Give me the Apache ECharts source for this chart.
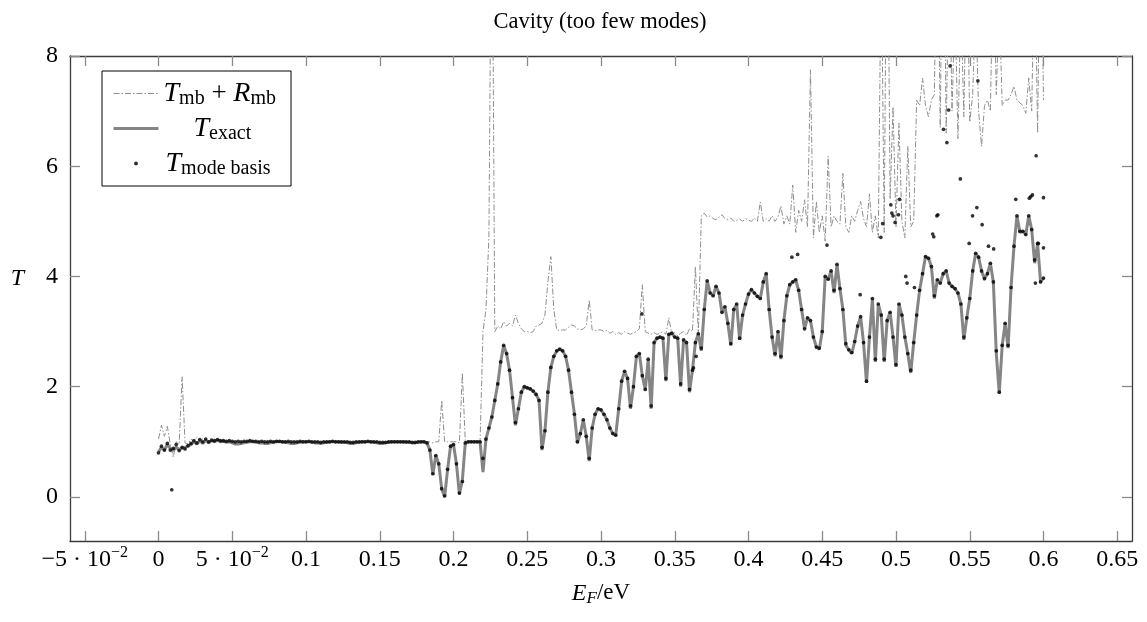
<!DOCTYPE html>
<html><head><meta charset="utf-8">
<script src="https://cdn.jsdelivr.net/npm/echarts@6/dist/echarts.min.js"></script>
<style>html,body{margin:0;padding:0;background:#fff}#c{width:1147px;height:622px}</style>
</head><body><div id="c"></div>
<script>
// Energy grid E_F in meV (0 .. 600 meV)
const energy_meV = [
0,2,4,6,8,10,12,14,16,18,20,22,24,26,28,30,32,34,36,38,
40,42,44,46,48,50,52,54,56,58,60,62,64,66,68,70,72,74,76,78,
80,82,84,86,88,90,92,94,96,98,100,102,104,106,108,110,112,114,116,118,
120,122,124,126,128,130,132,134,136,138,140,142,144,146,148,150,152,154,156,158,
160,162,164,166,168,170,172,174,176,178,180,182,184,186,188,190,192,194,196,198,
200,202,204,206,208,210,212,214,216,218,220,222,224,226,228,230,232,234,236,238,
240,242,244,246,248,250,252,254,256,258,260,262,264,266,268,270,272,274,276,278,
280,282,284,286,288,290,292,294,296,298,300,302,304,306,308,310,312,314,316,318,
320,322,324,326,328,330,332,334,336,338,340,342,344,346,348,350,352,354,356,358,
360,362,364,366,368,370,372,374,376,378,380,382,384,386,388,390,392,394,396,398,
400,402,404,406,408,410,412,414,416,418,420,422,424,426,428,430,432,434,436,438,
440,442,444,446,448,450,452,454,456,458,460,462,464,466,468,470,472,474,476,478,
480,482,484,486,488,490,492,494,496,498,500,502,504,506,508,510,512,514,516,518,
520,522,524,526,528,530,532,534,536,538,540,542,544,546,548,550,552,554,556,558,
560,562,564,566,568,570,572,574,576,578,580,582,584,586,588,590,592,594,596,598,
600];

const T_exact = [
0.82,0.9,0.85,0.95,0.88,0.84,0.9,0.86,0.88,0.9,0.92,0.95,1.0,0.96,1.02,0.97,1.03,0.98,1.02,1.0,
1.03,1.0,1.01,0.99,1.0,0.98,0.96,0.96,0.97,0.98,0.99,1.0,1.0,0.99,0.98,0.98,0.97,0.97,0.98,0.99,
1.0,1.0,1.0,0.99,0.98,0.97,0.97,0.98,0.99,1.0,1.0,1.0,0.99,0.98,0.98,0.97,0.98,0.99,1.0,1.0,
1.0,1.0,0.99,0.99,0.98,0.97,0.97,0.98,0.99,1.0,1.0,1.0,1.0,0.99,0.98,0.97,0.97,0.98,0.99,1.0,
1.0,1.0,1.0,1.0,0.99,0.99,0.98,0.98,0.99,1.0,1.0,0.98,0.85,0.4,0.75,0.6,0.15,0.0,0.5,0.92,
0.95,0.6,0.05,0.3,0.98,1.0,1.0,1.0,1.0,1.0,0.45,1.05,1.25,1.45,1.75,2.05,2.45,2.75,2.6,2.3,
1.8,1.3,1.6,1.9,2.0,1.98,1.96,1.92,1.86,1.75,0.85,1.2,1.9,2.35,2.55,2.65,2.68,2.65,2.55,2.3,
1.9,1.5,0.98,1.15,1.4,1.1,0.65,1.25,1.5,1.6,1.58,1.5,1.4,1.25,1.15,1.12,1.6,2.1,2.28,2.15,
1.6,2.0,2.55,2.6,2.2,1.95,2.5,1.6,2.8,2.88,2.9,2.88,2.1,2.95,2.97,2.9,2.88,2.0,2.85,2.8,
1.9,2.3,2.8,2.96,2.65,3.4,3.92,3.7,3.65,3.82,3.7,3.35,3.45,3.15,2.75,3.4,3.5,2.85,3.3,3.5,
3.68,3.76,3.7,3.64,3.6,3.9,4.05,3.4,2.9,2.55,3.0,2.5,3.2,3.65,3.85,3.9,3.94,3.75,3.4,3.05,
3.25,3.2,2.9,2.72,2.68,3.0,4.0,3.95,4.1,3.7,4.22,3.78,3.4,2.75,2.67,2.6,2.82,3.1,3.27,2.8,
2.07,2.9,3.6,2.45,3.5,3.3,2.45,3.2,3.35,2.9,2.36,3.5,3.3,2.9,2.6,2.25,2.8,3.3,3.75,4.05,
4.36,4.33,4.18,3.6,3.94,3.88,4.05,4.1,3.88,3.82,3.78,3.7,3.5,2.85,3.25,3.6,4.1,4.42,4.35,4.1,
3.96,4.05,4.24,3.9,2.6,1.88,2.75,3.15,2.7,3.8,4.55,5.1,4.8,4.82,4.76,5.1,4.85,4.24,4.6,3.9,
3.97];

const T_mb_plus_R_mb = [
1.05,1.3,1.1,1.28,0.95,0.72,1.0,0.95,2.18,0.98,0.96,1.05,1.0,1.08,1.02,1.05,1.0,1.02,1.01,1.0,
1.01,1.0,1.01,1.0,1.0,0.99,0.98,0.98,0.98,0.99,1.0,1.0,1.0,1.0,0.99,0.99,0.98,0.98,0.99,1.0,
1.0,1.0,1.0,1.0,0.99,0.98,0.98,0.99,1.0,1.0,1.0,1.0,1.0,0.99,0.99,0.98,0.99,1.0,1.0,1.0,
1.0,1.0,1.0,1.0,0.99,0.98,0.98,0.99,1.0,1.0,1.0,1.0,1.0,1.0,0.99,0.98,0.98,0.99,1.0,1.0,
1.0,1.0,1.0,1.0,1.0,1.0,0.99,0.99,1.0,1.0,1.0,1.0,1.0,0.98,1.0,1.0,1.75,1.0,1.0,1.0,
1.0,1.0,0.98,2.25,1.0,1.0,1.0,1.0,1.0,1.0,3.0,3.4,4.7,12,3.0,3.1,3.05,3.18,3.1,3.15,
3.1,3.3,3.15,3.05,3.0,3.0,2.98,3.0,3.1,3.12,3.15,3.3,3.9,4.36,3.4,3.03,3.02,3.03,3.03,3.08,
3.12,3.1,3.05,3.03,3.05,3.1,3.57,3.03,3.02,3.03,3.03,3.0,3.02,2.97,3.0,2.95,2.98,2.95,3.0,2.97,
2.95,2.98,3.0,3.05,3.85,3.0,2.97,2.95,2.98,2.95,2.97,3.0,2.95,3.25,2.95,2.98,2.92,2.97,3.0,2.93,
3.05,3.0,4.18,2.95,5.1,5.15,5.08,5.1,5.05,5.03,5.08,5.12,5.05,5.03,5.06,5.0,5.02,5.04,5.0,5.05,
5.02,5.0,5.06,5.0,5.35,5.0,5.05,5.0,5.1,5.0,5.08,5.28,4.95,5.1,4.95,5.66,4.8,5.2,5.0,5.39,
4.9,7.75,4.7,5.36,4.8,5.1,4.64,6.18,4.9,5.1,5.0,4.95,5.87,4.9,4.8,5.1,5.0,5.2,5.36,5.05,
4.9,5.5,4.8,5.1,4.7,10,4.8,12,5.4,7.08,4.9,6.78,5.0,4.7,6.36,4.9,5.0,7.2,7.1,7.6,
7.1,6.9,7.2,7.3,11,6.7,12,6.6,10,7.0,9,6.5,9,6.9,10,6.8,7.3,9,7.0,6.36,
7.1,7.2,7.0,10,7.3,9,7.1,7.2,7.2,7.3,7.45,7.2,7.15,7.1,6.96,7.6,7.0,10,6.6,11,
7.2];

const T_mode_basis = [
0.8,0.92,0.85,0.97,0.85,0.88,0.95,0.84,0.9,0.87,0.93,0.97,1.02,0.98,1.04,1.0,1.05,1.0,1.03,1.02,
1.04,1.02,1.02,1.01,1.02,1.01,1.0,1.01,1.0,1.01,1.01,1.02,1.01,1.01,1.0,1.01,1.0,1.0,1.01,1.0,
1.01,1.01,1.0,1.0,1.01,1.0,1.0,1.0,1.01,1.0,1.0,1.01,1.0,1.0,1.0,0.99,1.0,1.0,1.0,1.01,
1.0,1.0,1.0,1.0,1.0,0.99,0.99,1.0,1.0,1.0,1.0,1.01,1.0,1.0,1.0,0.99,0.99,0.99,1.0,1.0,
1.0,1.0,1.0,1.0,1.0,1.0,0.99,0.99,1.0,1.0,1.0,0.98,0.85,0.42,0.75,0.6,0.15,0.02,0.5,0.92,
0.95,0.6,0.07,0.28,0.98,1.0,1.0,1.0,1.0,1.0,0.7,1.05,1.25,1.45,1.75,2.05,2.45,2.75,2.6,2.3,
1.8,1.35,1.6,1.9,2.0,1.98,1.96,1.92,1.86,1.75,0.9,1.2,1.9,2.35,2.55,2.65,2.68,2.65,2.55,2.3,
1.9,1.5,1.0,1.15,1.4,1.1,0.7,1.25,1.5,1.6,1.58,1.5,1.4,1.25,1.15,1.12,1.6,2.1,2.28,2.15,
1.65,2.0,2.55,2.6,2.2,1.95,2.5,1.65,2.8,2.88,2.9,2.88,2.15,2.95,2.97,2.9,2.88,2.05,2.85,2.8,
1.95,2.3,2.8,2.96,2.7,3.4,3.92,3.7,3.65,3.82,3.7,3.35,3.45,3.15,2.78,3.4,3.5,2.88,3.3,3.5,
3.68,3.76,3.7,3.64,3.6,3.9,4.05,3.4,2.9,2.6,3.0,2.55,3.2,3.65,3.85,3.9,3.94,3.75,3.4,3.05,
3.25,3.2,2.9,2.72,2.7,3.0,4.0,3.95,4.1,3.75,4.22,3.78,3.4,2.78,2.67,2.62,2.82,3.1,3.27,2.8,
2.1,2.9,3.6,2.5,3.5,3.3,2.5,3.2,3.35,2.9,2.4,3.5,3.3,2.9,2.6,2.3,2.8,3.3,3.75,4.05,
4.36,4.33,4.18,3.65,3.94,3.88,4.05,4.1,3.88,3.82,3.78,3.7,3.5,2.9,3.25,3.6,4.1,4.42,4.35,4.1,
3.96,4.05,4.24,3.9,2.65,1.9,2.75,3.15,2.75,3.8,4.55,5.1,4.82,4.82,4.76,5.1,4.85,4.3,4.6,3.9,
3.97];

// extra mode-basis points that leave the exact curve: [E_F in eV, T]
const T_mode_basis_outliers = [
[0.009,0.13],[0.3277,3.32],[0.3627,2.34],[0.3645,2.55],
[0.4294,4.35],[0.4333,4.4],[0.4532,4.57],[0.4757,3.67],[0.4897,4.71],[0.491,4.96],
[0.4965,5.3],[0.4972,5.15],[0.498,5.1],[0.4994,4.98],[0.5017,5.12],[0.5024,5.4],
[0.5066,4.0],[0.5075,3.88],[0.5125,3.8],[0.5249,4.77],[0.5256,4.72],[0.5277,5.1],
[0.5284,5.12],[0.5322,6.67],[0.5345,6.43],[0.5357,7.02],[0.5367,7.82],[0.5436,5.77],
[0.5496,4.6],[0.5519,5.1],[0.5548,5.25],[0.5555,7.55],[0.5584,4.94],[0.5627,4.55],
[0.5662,4.5],[0.5812,5.4],[0.5904,5.42],[0.5914,5.45],[0.5925,5.48],[0.595,6.19],
[0.6,5.43],[0.6,4.52],[0.5945,3.88],[0.5965,4.6]];

const xTickValues = [-0.05,0,0.05,0.1,0.15,0.2,0.25,0.3,0.35,0.4,0.45,0.5,0.55,0.6,0.65];
const xTickLabels = ['−5 · 10^−2','0','5 · 10^−2','0.1','0.15','0.2','0.25','0.3','0.35','0.4','0.45','0.5','0.55','0.6','0.65'];
const yTickValues = [0,2,4,6,8];
const yTickLabels = ['0','2','4','6','8'];

const legendLabels = {
  'Tmb+Rmb': '{i|T}{s|mb}{n| + }{i|R}{s|mb}',
  'Texact': '{p| }{i|T}{s|exact}',
  'Tmode': '{q| }{i|T}{s|mode basis}'
};

const FONT = '"Liberation Serif","DejaVu Serif",serif';
const toPairs = ys => ys.map((v, i) => [energy_meV[i] / 1000, v]);

function xLabel(v) {
  const k = xTickValues.findIndex(t => Math.abs(t - v) < 1e-6);
  if (k < 0) return '';
  const s = xTickLabels[k];
  if (s.indexOf('^') >= 0) {
    const parts = s.split('^');
    return '{n|' + parts[0] + '}{sup|' + parts[1] + '}';
  }
  return '{n|' + s + '}';
}
function yLabel(v) {
  const k = yTickValues.findIndex(t => Math.abs(t - v) < 1e-6);
  return k < 0 ? '' : yTickLabels[k];
}

const axisLineStyle = {color: '#3a3a3a', width: 1.3};
const tickStyle = {color: '#8a8a8a', width: 1.3};

const chart = echarts.init(document.getElementById('c'), null, {renderer: 'canvas'});
chart.setOption({
  animation: false,
  backgroundColor: '#fff',
  title: {
    text: 'Cavity (too few modes)', left: 595, top: 6, textAlign: 'center',
    textStyle: {fontFamily: FONT, fontSize: 22.5, fontWeight: 'normal', color: '#000'}
  },
  grid: {left: 70, right: 15, top: 56, bottom: 81, containLabel: false},
  legend: {
    orient: 'vertical', left: 102, top: 71,
    padding: [7, 15, 7, 10], itemGap: 4, itemWidth: 45, itemHeight: 4,
    borderColor: '#000', borderWidth: 1, borderRadius: 0, backgroundColor: '#fff',
    data: [
      {name: 'Tmb+Rmb', itemStyle: {opacity: 0}, lineStyle: {width: 1}},
      {name: 'Texact', lineStyle: {width: 3}},
      {name: 'Tmode'}
    ],
    formatter: name => legendLabels[name],
    textStyle: {
      fontFamily: FONT, fontSize: 24, color: '#000',
      rich: {
        i: {fontFamily: FONT, fontStyle: 'italic', fontSize: 28, lineHeight: 29},
        n: {fontFamily: FONT, fontSize: 27, lineHeight: 29},
        s: {fontFamily: FONT, fontSize: 20, lineHeight: 20, padding: [11, 0, 0, 0]},
        p: {width: 30, fontSize: 16},
        q: {width: 2, fontSize: 16}
      }
    }
  },
  xAxis: [{
    type: 'value', min: -0.06, max: 0.66, position: 'bottom',
    name: '{i|E}{s|F}{n|/eV}', nameLocation: 'middle', nameGap: 33,
    nameTextStyle: {
      fontFamily: FONT, fontSize: 23, color: '#000',
      rich: {
        i: {fontFamily: FONT, fontStyle: 'italic', fontSize: 24, lineHeight: 26},
        n: {fontFamily: FONT, fontSize: 23, lineHeight: 26},
        s: {fontFamily: FONT, fontStyle: 'italic', fontSize: 17, lineHeight: 17, padding: [10, 0, 0, 0]}
      }
    },
    axisLine: {show: true, onZero: false, lineStyle: axisLineStyle},
    axisTick: {show: true, inside: true, length: 10, lineStyle: tickStyle, customValues: xTickValues},
    axisLabel: {
      customValues: xTickValues, margin: 4, formatter: xLabel, color: '#000',
      fontFamily: FONT, fontSize: 24,
      rich: {
        n: {fontFamily: FONT, fontSize: 24, lineHeight: 30},
        sup: {fontFamily: FONT, fontSize: 16, lineHeight: 16, padding: [0, 0, 14, 0]}
      }
    },
    splitLine: {show: false}
  }, {
    type: 'value', min: -0.06, max: 0.66, position: 'top',
    axisLine: {show: true, onZero: false, lineStyle: axisLineStyle},
    axisTick: {show: true, inside: true, length: 10, lineStyle: tickStyle, customValues: xTickValues},
    axisLabel: {show: false},
    splitLine: {show: false}
  }],
  yAxis: [{
    type: 'value', min: -0.8, max: 8, position: 'left',
    name: 'T', nameLocation: 'middle', nameGap: 46, nameRotate: 0,
    nameTextStyle: {fontFamily: FONT, fontStyle: 'italic', fontSize: 24, color: '#000', verticalAlign: 'bottom', lineHeight: 40},
    axisLine: {show: true, onZero: false, lineStyle: axisLineStyle},
    axisTick: {show: true, inside: true, length: 10, lineStyle: tickStyle, customValues: yTickValues},
    axisLabel: {customValues: yTickValues, margin: 12, formatter: yLabel, color: '#000', fontFamily: FONT, fontSize: 24},
    splitLine: {show: false}
  }, {
    type: 'value', min: -0.8, max: 8, position: 'right',
    axisLine: {show: true, onZero: false, lineStyle: axisLineStyle},
    axisTick: {show: true, inside: true, length: 10, lineStyle: tickStyle, customValues: yTickValues},
    axisLabel: {show: false},
    splitLine: {show: false}
  }],
  series: [
    {
      name: 'Tmb+Rmb', type: 'line', xAxisIndex: 0, yAxisIndex: 0,
      data: toPairs(T_mb_plus_R_mb), symbol: 'none', clip: true,
      lineStyle: {color: '#8f8f8f', width: 1, type: [6, 2, 1.5, 2]},
      itemStyle: {color: '#8f8f8f'}, z: 2
    },
    {
      name: 'Texact', type: 'line', xAxisIndex: 0, yAxisIndex: 0,
      data: toPairs(T_exact), symbol: 'none', clip: true,
      lineStyle: {color: '#858585', width: 3},
      itemStyle: {color: '#858585'}, z: 3
    },
    {
      name: 'Tmode', type: 'scatter', xAxisIndex: 0, yAxisIndex: 0,
      data: toPairs(T_mode_basis).concat(T_mode_basis_outliers),
      symbol: 'circle', symbolSize: 3.7, clip: true,
      itemStyle: {color: '#000'}, z: 4
    }
  ]
});
</script></body></html>
